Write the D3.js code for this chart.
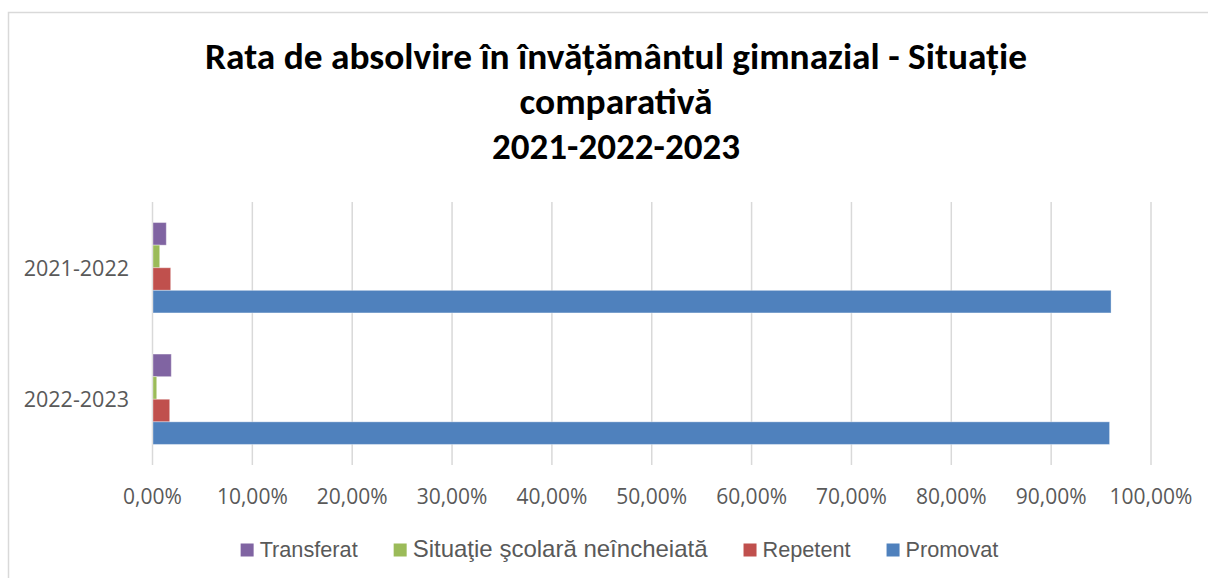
<!DOCTYPE html>
<html>
<head>
<meta charset="utf-8">
<script src="https://cdn.jsdelivr.net/npm/d3@7"></script>
<style>
	body { margin: 0; background: #fff; }
	svg { display: block; }
	.tick-label { font-family: "Open Sans", sans-serif; fill: #595959; }
	.legend-label { font-family: "Liberation Sans", Arial, sans-serif; fill: #595959; }
	.title { font-family: Carlito, "Open Sans", sans-serif; font-weight: bold; fill: #000; }
</style>
</head>
<body>
<svg id="chart" width="1208" height="578"></svg>
<script>
const categories = ['2021-2022', '2022-2023'];
const seriesNames = ['Transferat', 'Situaţie şcolară neîncheiată', 'Repetent', 'Promovat'];
const seriesColors = ['#8064A2', '#9BBB59', '#C0504D', '#4F81BD'];
const transferat = [1.38, 1.88];
const neincheiata = [0.72, 0.42];
const repetent = [1.82, 1.72];
const promovat = [96.0, 95.85];
const xTicks = [0, 10, 20, 30, 40, 50, 60, 70, 80, 90, 100];
const titleLines = ['Rata de absolvire în învățământul gimnazial - Situație', 'comparativă', '2021-2022-2023'];

const values = [transferat, neincheiata, repetent, promovat];
const plot = { left: 152.5, right: 1151, top: 202, bottom: 465 };

const svg = d3.select('#chart');

// chart area border
svg.append('rect')
	.attr('x', 8.5)
	.attr('y', 12.5)
	.attr('width', 1400)
	.attr('height', 800)
	.attr('fill', 'none')
	.attr('stroke', '#d9d9d9')
	.attr('stroke-width', 1.5);

const xScale = d3.scaleLinear()
	.domain([0, 100])
	.range([plot.left, plot.right]);

const yScale = d3.scaleBand()
	.domain(categories)
	.range([plot.top, plot.bottom]);

const barScale = d3.scaleBand()
	.domain(seriesNames)
	.range([0, yScale.bandwidth()])
	.paddingInner(0)
	.paddingOuter(0.91);

// gridlines
svg.append('g')
	.selectAll('line')
	.data(xTicks)
	.enter()
	.append('line')
	.attr('x1', (d) => xScale(d))
	.attr('x2', (d) => xScale(d))
	.attr('y1', plot.top)
	.attr('y2', plot.bottom)
	.attr('stroke', '#d9d9d9')
	.attr('stroke-width', 1.5);

// bars
const rows = [];
categories.forEach((c, i) => {
	seriesNames.forEach((s, j) => rows.push({ category: c, series: s, value: values[j][i], color: seriesColors[j] }));
});

svg.append('g')
	.selectAll('rect')
	.data(rows)
	.enter()
	.append('rect')
	.attr('x', xScale(0) + 0.5)
	.attr('y', (d) => yScale(d.category) + barScale(d.series))
	.attr('width', (d) => xScale(d.value) - xScale(0) - 0.5)
	.attr('height', barScale.bandwidth())
	.attr('fill', (d) => d.color)
	.attr('stroke', '#ffffff')
	.attr('stroke-opacity', 0.35)
	.attr('stroke-width', 1);

// x tick labels
svg.append('g')
	.selectAll('text')
	.data(xTicks)
	.enter()
	.append('text')
	.attr('class', 'tick-label')
	.attr('x', (d) => xScale(d))
	.attr('y', 504)
	.attr('text-anchor', 'middle')
	.style('font-size', '21px')
	.text((d) => d3.format('.2f')(d).replace('.', ',') + '%');

// category labels
svg.append('g')
	.selectAll('text')
	.data(categories)
	.enter()
	.append('text')
	.attr('class', 'tick-label')
	.attr('x', 129)
	.attr('y', (d) => yScale(d) + yScale.bandwidth() / 2 + 8)
	.attr('text-anchor', 'end')
	.style('font-size', '21.5px')
	.text((d) => d);

// title
const titleWidths = [822, 193, 248];
svg.append('g')
	.selectAll('text')
	.data(titleLines)
	.enter()
	.append('text')
	.attr('class', 'title')
	.attr('x', 616)
	.attr('y', (d, i) => 69 + i * 45)
	.attr('text-anchor', 'middle')
	.style('font-size', '37px')
	.attr('textLength', (d, i) => titleWidths[i])
	.attr('lengthAdjust', 'spacingAndGlyphs')
	.text((d) => d);

// legend
const legend = svg.append('g');
let lx = 0;
seriesNames.forEach((name, i) => {
	legend.append('rect')
		.attr('x', lx)
		.attr('y', 543.5)
		.attr('width', 13)
		.attr('height', 13)
		.attr('fill', seriesColors[i]);
	const label = legend.append('text')
		.attr('class', 'legend-label')
		.attr('x', lx + 19)
		.attr('y', 557)
		.style('font-size', i === 1 ? '24px' : '21.7px')
		.text(name);
	lx += 19 + label.node().getComputedTextLength() + 36;
});
const legendWidth = lx - 36;
legend.attr('transform', `translate(${619.5 - legendWidth / 2}, 0)`);
</script>
</body>
</html>
